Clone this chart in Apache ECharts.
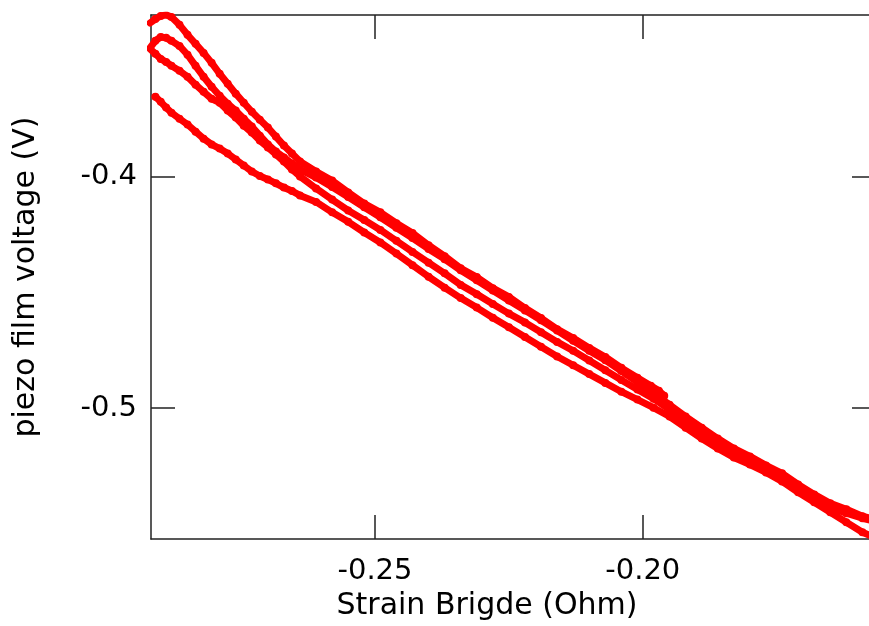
<!DOCTYPE html>
<html>
<head>
<meta charset="utf-8">
<script src="https://cdn.jsdelivr.net/npm/echarts@6/dist/echarts.min.js"></script>
<style>html,body{margin:0;padding:0;background:#fff;overflow:hidden;width:869px;height:626px;}#c{width:884px;height:626px;}</style>
</head>
<body>
<div id="c"></div>
<script>
// ---- axis ranges and ticks ----
const xMin = -0.29182, xMax = -0.15646;
const yMin = -0.55649, yMax = -0.33035;
const xTicks = [-0.25, -0.20];
const yTicks = [-0.4, -0.5];
const xName = 'Strain Brigde (Ohm)';
const yName = 'piezo film voltage (V)';

// ---- strand A (top strand, ends near -0.196) ----
const xA = [-0.2920,-0.2910,-0.2900,-0.2890,-0.2880,-0.2865,-0.2850,-0.2835,-0.2820,-0.2805,-0.2790,-0.2775,-0.2760,-0.2745,-0.2730,-0.2715,-0.2700,-0.2685,-0.2670,-0.2655,-0.2640,
  -0.2610,-0.2580,-0.2550,-0.2520,-0.2490,-0.2460,-0.2430,-0.2400,-0.2370,-0.2340,-0.2310,-0.2280,-0.2250,-0.2220,-0.2190,-0.2160,-0.2130,-0.2100,-0.2070,-0.2040,-0.2010,
  -0.1985,-0.1970,-0.1960,-0.1962];
const yA = [-0.3338,-0.3321,-0.3308,-0.3303,-0.3312,-0.3346,-0.3389,-0.3428,-0.3467,-0.3510,-0.3557,-0.3600,-0.3643,-0.3682,-0.3721,-0.3755,-0.3789,-0.3828,-0.3867,-0.3901,-0.3936,
  -0.3979,-0.4018,-0.4069,-0.4117,-0.4155,-0.4202,-0.4244,-0.4297,-0.4344,-0.4396,-0.4434,-0.4482,-0.4520,-0.4568,-0.4611,-0.4659,-0.4697,-0.4740,-0.4779,-0.4826,-0.4869,
  -0.4903,-0.4925,-0.4946,-0.4959];

// ---- strand B (upper loop branch) ----
const xB = [-0.2920,-0.2910,-0.2900,-0.2890,-0.2880,-0.2865,-0.2850,-0.2835,-0.2820,-0.2805,-0.2790,-0.2775,-0.2760,-0.2745,-0.2730,-0.2715,-0.2700,-0.2685,-0.2670,-0.2655,-0.2640,
  -0.2610,-0.2580,-0.2550,-0.2520,-0.2490,-0.2460,-0.2430,-0.2400,-0.2370,-0.2340,-0.2310,-0.2280,-0.2250,-0.2220,-0.2190,-0.2160,-0.2130,-0.2100,-0.2070,-0.2040,-0.2010,
  -0.1980,-0.1950,-0.1920,-0.1890,-0.1860,-0.1830,-0.1800,-0.1770,-0.1740,-0.1710,-0.1680,-0.1650,-0.1620,-0.1590,-0.1560];
const yB = [-0.3445,-0.3415,-0.3398,-0.3402,-0.3415,-0.3437,-0.3475,-0.3523,-0.3570,-0.3613,-0.3652,-0.3686,-0.3716,-0.3751,-0.3785,-0.3824,-0.3862,-0.3893,-0.3918,-0.3944,-0.3970,
  -0.4005,-0.4046,-0.4089,-0.4133,-0.4176,-0.4222,-0.4266,-0.4313,-0.4357,-0.4405,-0.4448,-0.4492,-0.4535,-0.4578,-0.4621,-0.4665,-0.4709,-0.4752,-0.4793,-0.4840,-0.4888,
  -0.4937,-0.4985,-0.5036,-0.5084,-0.5131,-0.5174,-0.5208,-0.5247,-0.5281,-0.5329,-0.5372,-0.5410,-0.5436,-0.5466,-0.5484];

// ---- strand C (lower loop branch) ----
const xC = [-0.2920,-0.2910,-0.2900,-0.2890,-0.2880,-0.2865,-0.2850,-0.2835,-0.2820,-0.2805,-0.2790,-0.2775,-0.2760,-0.2745,-0.2730,-0.2715,-0.2700,-0.2685,-0.2670,-0.2655,-0.2640,
  -0.2610,-0.2580,-0.2550,-0.2520,-0.2490,-0.2460,-0.2430,-0.2400,-0.2370,-0.2340,-0.2310,-0.2280,-0.2250,-0.2220,-0.2190,-0.2160,-0.2130,-0.2100,-0.2070,-0.2040,-0.2010,
  -0.1980,-0.1950,-0.1920,-0.1890,-0.1860,-0.1830,-0.1800,-0.1770,-0.1740,-0.1710,-0.1680,-0.1650,-0.1620,-0.1590,-0.1560];
const yC = [-0.3450,-0.3471,-0.3493,-0.3506,-0.3523,-0.3544,-0.3570,-0.3604,-0.3635,-0.3665,-0.3682,-0.3716,-0.3746,-0.3781,-0.3811,-0.3845,-0.3875,-0.3905,-0.3936,-0.3970,-0.4000,
  -0.4052,-0.4100,-0.4147,-0.4188,-0.4231,-0.4278,-0.4326,-0.4372,-0.4418,-0.4468,-0.4508,-0.4550,-0.4592,-0.4630,-0.4672,-0.4714,-0.4752,-0.4794,-0.4836,-0.4878,-0.4919,
  -0.4959,-0.5006,-0.5058,-0.5105,-0.5152,-0.5191,-0.5226,-0.5264,-0.5299,-0.5346,-0.5389,-0.5428,-0.5453,-0.5475,-0.5492];

// ---- strand D (lowest strand) ----
const xD = [-0.2910,-0.2900,-0.2890,-0.2880,-0.2865,-0.2850,-0.2835,-0.2820,-0.2805,-0.2790,-0.2775,-0.2760,-0.2745,-0.2730,-0.2715,-0.2700,-0.2685,-0.2670,-0.2655,-0.2640,
  -0.2610,-0.2580,-0.2550,-0.2520,-0.2490,-0.2460,-0.2430,-0.2400,-0.2370,-0.2340,-0.2310,-0.2280,-0.2250,-0.2220,-0.2190,-0.2160,-0.2130,-0.2100,-0.2070,-0.2040,-0.2010,
  -0.1980,-0.1950,-0.1920,-0.1890,-0.1860,-0.1830,-0.1800,-0.1770,-0.1740,-0.1710,-0.1680,-0.1650,-0.1620,-0.1590,-0.1560];
const yD = [-0.3656,-0.3678,-0.3703,-0.3725,-0.3751,-0.3776,-0.3807,-0.3837,-0.3862,-0.3880,-0.3901,-0.3927,-0.3953,-0.3979,-0.3998,-0.4013,-0.4030,-0.4048,-0.4063,-0.4082,
  -0.4110,-0.4155,-0.4196,-0.4242,-0.4285,-0.4333,-0.4383,-0.4433,-0.4480,-0.4525,-0.4566,-0.4610,-0.4651,-0.4693,-0.4735,-0.4777,-0.4815,-0.4853,-0.4891,-0.4929,-0.4963,
  -0.4998,-0.5036,-0.5084,-0.5131,-0.5174,-0.5213,-0.5243,-0.5277,-0.5316,-0.5363,-0.5406,-0.5449,-0.5492,-0.5535,-0.5565];

function pairs(xs, ys) { return xs.map((x, i) => [x, ys[i]]); }

const FONT = 'DejaVu Sans';
const axisColor = '#222';
const lineSty = { color: axisColor, width: 1.5 };

function strand(name, xs, ys) {
  return {
    name: name, type: 'line', data: pairs(xs, ys),
    xAxisIndex: 0, yAxisIndex: 0,
    showSymbol: true, symbol: 'circle', symbolSize: 8,
    lineStyle: { color: '#ff0000', width: 7, cap: 'round', join: 'round' },
    itemStyle: { color: '#ff0000', borderWidth: 0 },
    emphasis: { disabled: true }, clip: true, smooth: false, z: 3
  };
}

const chart = echarts.init(document.getElementById('c'), null, { renderer: 'canvas', width: 884, height: 626 });
chart.setOption({
  animation: false,
  backgroundColor: '#ffffff',
  grid: { left: 151, top: 15, width: 725, height: 526, containLabel: false },
  xAxis: [
    {
      type: 'value', position: 'bottom', min: xMin, max: xMax,
      axisLine: { show: true, onZero: false, lineStyle: lineSty },
      axisTick: { show: true, inside: true, length: 24, lineStyle: lineSty, customValues: xTicks },
      axisLabel: { show: true, customValues: xTicks, margin: 18, color: '#000', fontFamily: FONT, fontSize: 29,
        formatter: v => v.toFixed(2) },
      splitLine: { show: false },
      name: xName, nameLocation: 'middle', nameGap: 50,
      nameTextStyle: { color: '#000', fontFamily: FONT, fontSize: 30, padding: [0, 53, 0, 0] }
    },
    {
      type: 'value', position: 'top', min: xMin, max: xMax,
      axisLine: { show: true, onZero: false, lineStyle: lineSty },
      axisTick: { show: true, inside: true, length: 24, lineStyle: lineSty, customValues: xTicks },
      axisLabel: { show: false }, splitLine: { show: false }
    }
  ],
  yAxis: [
    {
      type: 'value', position: 'left', min: yMin, max: yMax,
      axisLine: { show: true, onZero: false, lineStyle: lineSty },
      axisTick: { show: true, inside: true, length: 24, lineStyle: lineSty, customValues: yTicks },
      axisLabel: { show: true, customValues: yTicks, margin: 14, color: '#000', fontFamily: FONT, fontSize: 29,
        formatter: v => v.toFixed(1) },
      splitLine: { show: false },
      name: yName, nameLocation: 'middle', nameGap: 110, nameRotate: 90,
      nameTextStyle: { color: '#000', fontFamily: FONT, fontSize: 30 }
    },
    {
      type: 'value', position: 'right', min: yMin, max: yMax,
      axisLine: { show: true, onZero: false, lineStyle: lineSty },
      axisTick: { show: true, inside: true, length: 24, lineStyle: lineSty, customValues: yTicks },
      axisLabel: { show: false }, splitLine: { show: false }
    }
  ],
  series: [
    strand('A', xA, yA),
    strand('B', xB, yB),
    strand('C', xC, yC),
    strand('D', xD, yD)
  ]
});
</script>
</body>
</html>
